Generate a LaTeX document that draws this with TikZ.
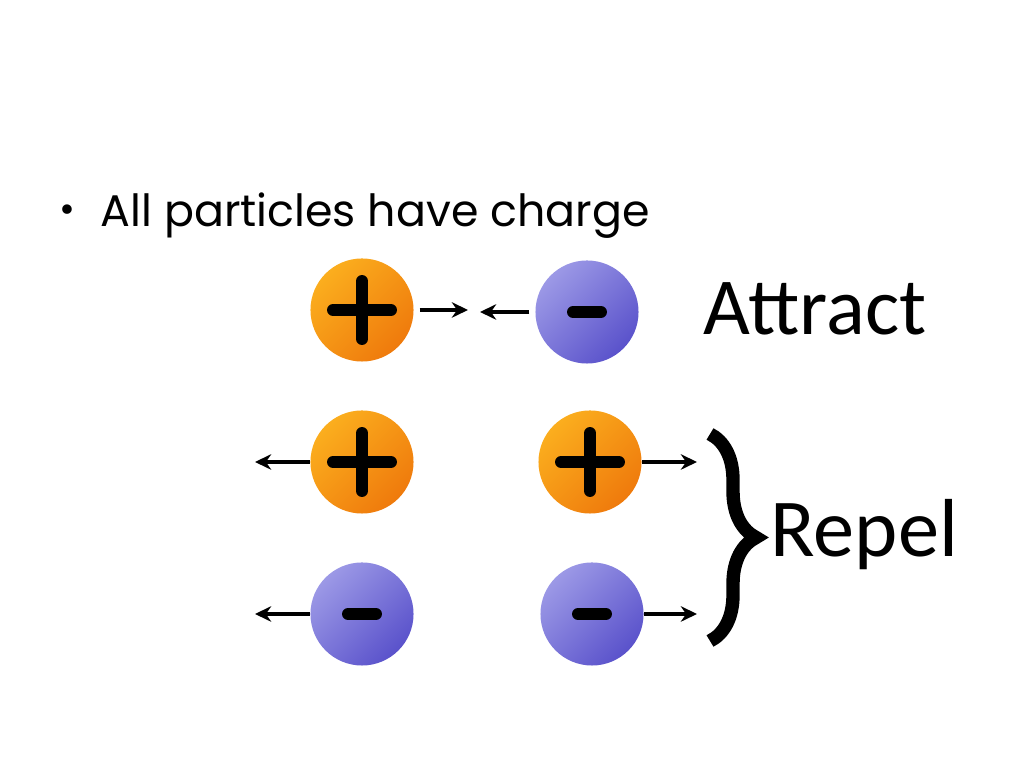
\documentclass[tikz,border=0pt]{standalone}
\usepackage{fontspec}
\setmainfont{Carlito}
\newfontfamily\gothic{Poppins}
\usetikzlibrary{arrows.meta,decorations.pathreplacing}

\definecolor{orangelight}{HTML}{FBAE1E}
\definecolor{orangedark}{HTML}{EF7A0C}
\definecolor{bluelight}{HTML}{9C99E6}
\definecolor{bluedark}{HTML}{5A52CB}

\begin{document}
\begin{tikzpicture}[x=0.01cm,y=-0.01cm]
\tikzstyle{every node}=[inner sep=0pt]
\tikzstyle{poscharge}=[circle,minimum size=1.03cm,top color=orangelight,bottom color=orangedark,shading angle=45]
\tikzstyle{negcharge}=[circle,minimum size=1.03cm,top color=bluelight,bottom color=bluedark,shading angle=45]
\tikzstyle{sign}=[line width=3.4pt,line cap=round]
\tikzstyle{push}=[line width=1pt,-{Stealth[length=4.6pt,width=4.4pt]}]
\tikzstyle{word}=[anchor=base west,font=\fontsize{23}{28}\selectfont]

\useasboundingbox (0,0) rectangle (1024,768);

% bullet line
\node (dot) at (67,214) {\gothic\fontsize{11}{14}\selectfont •};
\node[anchor=base west] (title) at (100,227) {\gothic\fontsize{12.6}{15}\selectfont All particles have charge};

% charges
\node[poscharge] (p1) at (362,310) {};
\node[negcharge] (m1) at (587,312) {};
\node[poscharge] (p2) at (362,462) {};
\node[poscharge] (p3) at (590,462) {};
\node[negcharge] (m2) at (362,614) {};
\node[negcharge] (m3) at (592,614) {};

\foreach \n in {p1,p2,p3}
  \draw[sign] (\n) +(-29,0) -- +(29,0) (\n) +(0,-29) -- +(0,29);
\foreach \n in {m1,m2,m3}
  \draw[sign] (\n) +(-14,0) -- +(14,0);

% forces
\coordinate (a1) at (468,310);
\coordinate (a2) at (480,312);
\coordinate (r1) at (255,462);
\coordinate (r2) at (697,462);
\coordinate (r3) at (255,614);
\coordinate (r4) at (697,614);
\draw[push] ([xshift=1.5pt]p1.east) -- (a1);
\draw[push] ([xshift=-1.5pt]m1.west) -- (a2);
\draw[push] (p2.west) -- (r1);
\draw[push] (p3.east) -- (r2);
\draw[push] (m2.west) -- (r3);
\draw[push] (m3.east) -- (r4);

% labels
\node[word] (attract) at (703,335) {Attract};
\coordinate (btop) at (710,434);
\coordinate (bbot) at (710,641);
\draw[line width=3.8pt,decorate,decoration={brace,amplitude=0.46cm}] (btop) -- (bbot);
\node[word,font=\fontsize{23.4}{28}\selectfont] (repel) at (770,557) {Repel};
\end{tikzpicture}
\end{document}
